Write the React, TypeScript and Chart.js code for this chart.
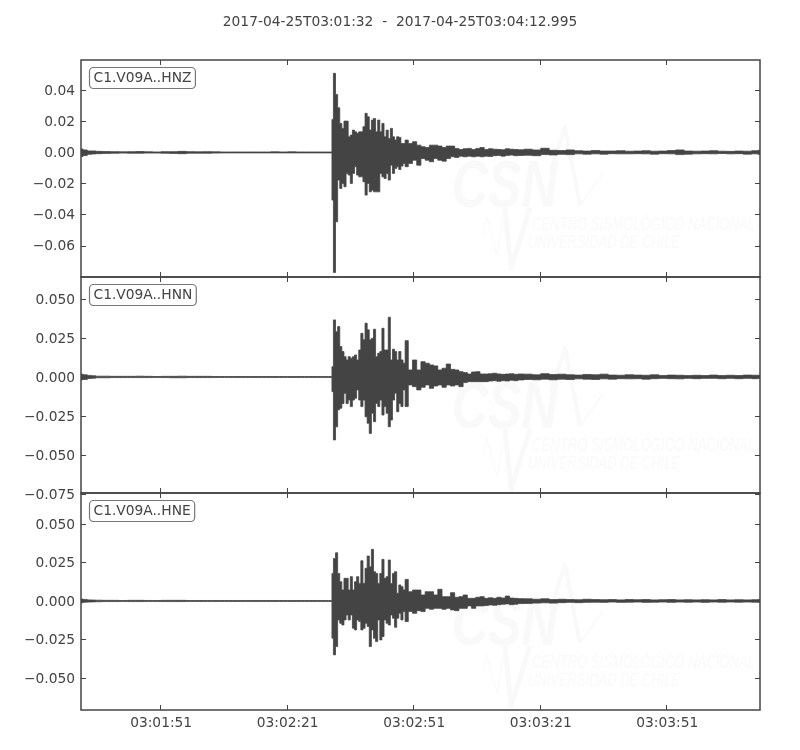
import React, { useEffect, useRef } from "react";
import { Chart, registerables } from "chart.js";

Chart.register(...registerables);

const titleText = "2017-04-25T03:01:32  -  2017-04-25T03:04:12.995";
const channels = ["C1.V09A..HNZ", "C1.V09A..HNN", "C1.V09A..HNE"];

const xTickValues = [19, 49, 79, 109, 139];
const xTickLabels = ["03:01:51", "03:02:21", "03:02:51", "03:03:21", "03:03:51"];

const hnzTicks = [0.04, 0.02, 0, -0.02, -0.04, -0.06];
const hnnTicks = [0.05, 0.025, 0, -0.025, -0.05, -0.075];
const hneTicks = [0.05, 0.025, 0, -0.025, -0.05];

const hnzRange = [-0.0803, 0.0596];
const hnnRange = [-0.0744, 0.0641];
const hneRange = [-0.0708, 0.0701];

// seconds after the trace start
const times = [
  0, 1, 2, 3,
  4, 6, 8, 10, 12, 14, 16, 18, 20, 22, 24, 26, 28, 30,
  32, 34, 36, 38, 40, 42, 44, 46, 48, 50, 52, 54, 56, 58,
  59.4,
  59.6, 60.1, 60.6, 61.1, 61.6, 62.1, 62.6, 63.1, 63.6, 64.1, 64.6, 65.1,
  65.6, 66.1, 66.6, 67.1, 67.6, 68.1, 68.6, 69.1, 69.6, 70.1, 70.6, 71.1,
  71.6, 72.1, 72.6, 73.1, 73.6, 74.1, 74.6, 75.1, 75.6, 76.1, 76.6, 77.1,
  78.1, 79.1, 80.1, 81.1, 82.1, 83.1, 84.1, 85.1, 86.1, 87.1, 88.1, 89.1, 90.1, 91.1,
  92.1, 93.1, 94.1, 95.1, 96.1, 97.1, 98.1, 99.1, 100.1, 101.1, 102.1, 103.1, 104.1,
  106, 108, 110, 112, 114, 116, 118, 120, 122, 124, 126, 128, 130, 132,
  134, 136, 138, 140, 142, 144, 146, 148, 150, 152, 154, 156, 158, 160,
  160.995,
];

const hnzHigh = [
  0.0022, 0.0016, 0.001, 0.001,
  0.0007, 0.0006, 0.0005, 0.0004, 0.0005, 0.0006, 0.0004, 0.0003, 0.0005, 0.0005, 0.0007, 0.0005, 0.0004, 0.0005,
  0.0004, 0.0003, 0.0003, 0.0003, 0.0003, 0.0003, 0.0003, 0.0004, 0.0003, 0.0004, 0.0003, 0.0003, 0.0003, 0.0003,
  0.0003,
  0.0213, 0.051, 0.0374, 0.0288, 0.0187, 0.0155, 0.0202, 0.0202, 0.0101, 0.0112, 0.0144, 0.0133,
  0.0123, 0.0133, 0.0133, 0.0166, 0.0252, 0.023, 0.0144, 0.0209, 0.0219, 0.0133, 0.0209, 0.0133,
  0.0187, 0.0101, 0.0144, 0.009, 0.0155, 0.0101, 0.008, 0.0101, 0.0097, 0.0058, 0.0058, 0.008,
  0.0058, 0.0069, 0.0047, 0.0037, 0.0032, 0.0047, 0.0047, 0.0041, 0.0032, 0.0041, 0.0041, 0.0026, 0.0019, 0.0024,
  0.0026, 0.0019, 0.0026, 0.0032, 0.0019, 0.0024, 0.0021, 0.0019, 0.0017, 0.0024, 0.0021, 0.0019, 0.0017,
  0.0021, 0.0016, 0.0027, 0.0014, 0.0012, 0.0016, 0.0011, 0.0009, 0.0012, 0.0009, 0.0009, 0.0011, 0.0008, 0.0009,
  0.0011, 0.0008, 0.0009, 0.0012, 0.0016, 0.0009, 0.0008, 0.0009, 0.0011, 0.0008, 0.0007, 0.0009, 0.0008, 0.0011,
  0.0014,
];
const hnzLow = [
  -0.0026, -0.002, -0.0012, -0.001,
  -0.0008, -0.0006, -0.0005, -0.0004, -0.0005, -0.0005, -0.0004, -0.0004, -0.0005, -0.0006, -0.0008, -0.0005, -0.0005, -0.0005,
  -0.0004, -0.0003, -0.0003, -0.0003, -0.0003, -0.0003, -0.0003, -0.0003, -0.0003, -0.0003, -0.0003, -0.0003, -0.0003, -0.0003,
  -0.0003,
  -0.0307, -0.0774, -0.0447, -0.0178, -0.0232, -0.02, -0.0221, -0.0135, -0.0146, -0.02, -0.0135, -0.0092,
  -0.0146, -0.0157, -0.0157, -0.0189, -0.0275, -0.02, -0.0254, -0.0243, -0.0254, -0.0254, -0.0254, -0.0135,
  -0.0157, -0.0168, -0.0135, -0.0178, -0.0082, -0.0135, -0.0103, -0.0092, -0.011, -0.0088, -0.0071, -0.0092,
  -0.0071, -0.005, -0.0082, -0.0039, -0.005, -0.006, -0.0039, -0.005, -0.0056, -0.0039, -0.0028, -0.0032, -0.0024, -0.0028,
  -0.0024, -0.0028, -0.0024, -0.0028, -0.0024, -0.0026, -0.0021, -0.0019, -0.0024, -0.0019, -0.0017, -0.0021, -0.0019,
  -0.0018, -0.0021, -0.0014, -0.0016, -0.0012, -0.0014, -0.0009, -0.0011, -0.0009, -0.0011, -0.0008, -0.0009, -0.0009, -0.0008,
  -0.0009, -0.0011, -0.0008, -0.0009, -0.0014, -0.0011, -0.0009, -0.0008, -0.0009, -0.0007, -0.0009, -0.0008, -0.0011, -0.0009,
  -0.0012,
];

const hnnHigh = [
  0.0018, 0.0014, 0.001, 0.0008,
  0.0005, 0.0005, 0.0004, 0.0004, 0.0004, 0.0005, 0.0004, 0.0003, 0.0004, 0.0004, 0.0005, 0.0004, 0.0004, 0.0004,
  0.0003, 0.0003, 0.0003, 0.0003, 0.0003, 0.0003, 0.0003, 0.0003, 0.0003, 0.0003, 0.0003, 0.0003, 0.0003, 0.0003,
  0.0003,
  0.0066, 0.0366, 0.029, 0.0323, 0.0195, 0.0163, 0.013, 0.0109, 0.013, 0.012, 0.013, 0.0141,
  0.0109, 0.0173, 0.028, 0.0238, 0.0345, 0.0302, 0.0238, 0.0248, 0.0306, 0.013, 0.0152, 0.0163,
  0.0312, 0.0173, 0.0173, 0.0383, 0.0109, 0.0178, 0.0163, 0.0109, 0.0163, 0.0109, 0.0088, 0.0233,
  0.0045, 0.0109, 0.0045, 0.0098, 0.0088, 0.0077, 0.0071, 0.0045, 0.0056, 0.0083, 0.0049, 0.0045, 0.0034, 0.0028,
  0.0019, 0.0032, 0.0034, 0.0019, 0.0019, 0.0021, 0.0024, 0.0019, 0.0017, 0.0019, 0.0021, 0.0017, 0.0019,
  0.0018, 0.0014, 0.0021, 0.0016, 0.0018, 0.0014, 0.0012, 0.0016, 0.0014, 0.0018, 0.0012, 0.0011, 0.0014, 0.0012,
  0.0011, 0.0014, 0.0009, 0.0012, 0.0011, 0.0009, 0.0011, 0.0009, 0.0012, 0.0009, 0.0011, 0.0009, 0.0012, 0.0011,
  0.0011,
];
const hnnLow = [
  -0.0018, -0.0016, -0.001, -0.0008,
  -0.0005, -0.0005, -0.0004, -0.0004, -0.0004, -0.0004, -0.0004, -0.0003, -0.0004, -0.0005, -0.0005, -0.0004, -0.0004, -0.0004,
  -0.0003, -0.0003, -0.0003, -0.0003, -0.0003, -0.0003, -0.0003, -0.0003, -0.0003, -0.0003, -0.0003, -0.0003, -0.0003, -0.0003,
  -0.0003,
  -0.0094, -0.0404, -0.032, -0.021, -0.02, -0.017, -0.0105, -0.017, -0.0148, -0.019, -0.0148, -0.0137,
  -0.0083, -0.0148, -0.019, -0.0148, -0.0255, -0.0297, -0.0362, -0.0233, -0.0287, -0.017, -0.019, -0.0148,
  -0.0244, -0.019, -0.0233, -0.0319, -0.0276, -0.0148, -0.0105, -0.0223, -0.017, -0.019, -0.0083, -0.019,
  -0.0051, -0.0062, -0.0083, -0.0066, -0.0051, -0.0073, -0.0058, -0.0051, -0.0066, -0.0051, -0.0058, -0.0051, -0.0062, -0.0036,
  -0.003, -0.003, -0.003, -0.003, -0.003, -0.0026, -0.0024, -0.0028, -0.0024, -0.0026, -0.0021, -0.0024, -0.0019,
  -0.0016, -0.0018, -0.0014, -0.0018, -0.0014, -0.0016, -0.0012, -0.0014, -0.0016, -0.0012, -0.0014, -0.0011, -0.0012, -0.0011,
  -0.0014, -0.0011, -0.0009, -0.0011, -0.0012, -0.0009, -0.0011, -0.0009, -0.0009, -0.0011, -0.0009, -0.0011, -0.0009, -0.0011,
  -0.0009,
];

const hneHigh = [
  0.0012, 0.001, 0.0007, 0.0006,
  0.0005, 0.0004, 0.0004, 0.0003, 0.0004, 0.0004, 0.0003, 0.0003, 0.0004, 0.0004, 0.0004, 0.0003, 0.0003, 0.0003,
  0.0003, 0.0003, 0.0003, 0.0003, 0.0003, 0.0003, 0.0003, 0.0003, 0.0003, 0.0003, 0.0003, 0.0003, 0.0003, 0.0003,
  0.0003,
  0.0179, 0.0276, 0.0313, 0.0179, 0.0125, 0.0071, 0.0147, 0.0147, 0.0071, 0.0158, 0.0071, 0.0125,
  0.0158, 0.0114, 0.0261, 0.0114, 0.0212, 0.0292, 0.0222, 0.0335, 0.019, 0.0179, 0.0114, 0.0179,
  0.027, 0.0147, 0.0158, 0.0266, 0.0114, 0.0179, 0.019, 0.005, 0.0104, 0.0093, 0.0071, 0.014,
  0.006, 0.0071, 0.0071, 0.0039, 0.006, 0.006, 0.0039, 0.0076, 0.0028, 0.0028, 0.0054, 0.0024, 0.0028, 0.0039,
  0.0017, 0.0017, 0.0024, 0.0028, 0.0017, 0.0021, 0.0017, 0.0024, 0.0019, 0.0032, 0.0019, 0.0017, 0.0015,
  0.0014, 0.0011, 0.0014, 0.0009, 0.0011, 0.0009, 0.0008, 0.0011, 0.0009, 0.0008, 0.0009, 0.0007, 0.0009, 0.0008,
  0.0009, 0.0007, 0.0008, 0.0009, 0.0007, 0.0008, 0.0007, 0.0008, 0.0007, 0.0009, 0.0007, 0.0008, 0.0007, 0.0008,
  0.0009,
];
const hneLow = [
  -0.0012, -0.0008, -0.0007, -0.0006,
  -0.0005, -0.0004, -0.0004, -0.0003, -0.0004, -0.0004, -0.0003, -0.0003, -0.0004, -0.0004, -0.0004, -0.0003, -0.0003, -0.0003,
  -0.0003, -0.0003, -0.0003, -0.0003, -0.0003, -0.0003, -0.0003, -0.0003, -0.0003, -0.0003, -0.0003, -0.0003, -0.0003, -0.0003,
  -0.0003,
  -0.0242, -0.035, -0.0296, -0.0123, -0.0145, -0.0156, -0.0123, -0.0091, -0.0123, -0.0091, -0.0177, -0.0188,
  -0.0123, -0.0134, -0.0188, -0.0177, -0.0145, -0.0166, -0.0296, -0.0188, -0.0242, -0.0264, -0.0123, -0.0253,
  -0.0231, -0.0123, -0.0145, -0.0156, -0.0091, -0.0112, -0.0171, -0.0112, -0.008, -0.0123, -0.0069, -0.0134,
  -0.0069, -0.008, -0.0063, -0.0069, -0.0048, -0.0054, -0.0048, -0.0048, -0.0054, -0.0048, -0.0058, -0.0063, -0.0048, -0.0048,
  -0.0032, -0.0048, -0.0032, -0.0032, -0.003, -0.0026, -0.0028, -0.0024, -0.0021, -0.0019, -0.0024, -0.0021, -0.0017,
  -0.0016, -0.0014, -0.0012, -0.0014, -0.0011, -0.0009, -0.0011, -0.0009, -0.0008, -0.0009, -0.0007, -0.0009, -0.0008, -0.0007,
  -0.0009, -0.0008, -0.0007, -0.0009, -0.0007, -0.0008, -0.0007, -0.0009, -0.0007, -0.0008, -0.0007, -0.0008, -0.0007, -0.0008,
  -0.0009,
];

const INK = "#444444";
const FONT = '"DejaVu Sans"';
const FONT_SIZE = 13.8;
const scaleIds = ["y1", "y2", "y3"];
const watermarkShift = [0, 221, 438];

const points = (values: number[]) => times.map((t, i) => ({ x: t, y: values[i] }));

const envelope = (values: number[], yAxisID: string, fill: string | boolean) => ({
  data: points(values),
  yAxisID,
  xAxisID: "x",
  parsing: false,
  borderColor: INK,
  backgroundColor: INK,
  borderWidth: 0.8,
  pointRadius: 0,
  stepped: "middle",
  fill,
});

const yScale = (range: number[], ticks: number[], decimals: number, weight: number) => ({
  type: "linear",
  position: "left",
  stack: "traces",
  stackWeight: weight,
  min: range[0],
  max: range[1],
  afterBuildTicks: (s: any) => {
    s.ticks = ticks.map((value) => ({ value }));
  },
  afterFit: (s: any) => {
    s.width = 81;
  },
  grid: { drawOnChartArea: false, drawTicks: false },
  border: { display: false },
  ticks: {
    color: INK,
    padding: 6,
    font: { family: FONT, size: FONT_SIZE },
    callback: (v: number) => (v < 0 ? "\u2212" : "") + Math.abs(v).toFixed(decimals),
  },
});

const frameAndLabels = {
  id: "frameAndLabels",
  beforeDraw(chart: any) {
    // nudge the value labels one pixel down, to sit where the reference has them
    scaleIds.forEach((id) => {
      chart.scales[id].getLabelItems().forEach((item: any) => {
        item.options.translation[1] += 1;
      });
    });
  },
  beforeDatasetsDraw(chart: any) {
    const ctx = chart.ctx;
    const { left } = chart.chartArea;
    ctx.save();
    ctx.fillStyle = "#f9f9f9";
    ctx.strokeStyle = "#f9f9f9";
    watermarkShift.forEach((dy) => {
      const ox = left;
      const oy = chart.chartArea.top + dy;
      ctx.save();
      ctx.translate(ox + 371, oy + 147);
      ctx.scale(1, 1.32);
      ctx.font = 'italic bold 50px "Liberation Sans"';
      ctx.textAlign = "left";
      ctx.textBaseline = "alphabetic";
      ctx.fillText("CSN", 0, 0);
      ctx.restore();
      ctx.lineJoin = "round";
      ctx.lineWidth = 4;
      ctx.beginPath();
      ctx.moveTo(ox + 470, oy + 110);
      ctx.lineTo(ox + 484, oy + 67);
      ctx.lineTo(ox + 499, oy + 145);
      ctx.stroke();
      ctx.lineWidth = 1.5;
      ctx.beginPath();
      ctx.moveTo(ox + 499, oy + 145);
      ctx.lineTo(ox + 522, oy + 113);
      ctx.stroke();
      ctx.lineWidth = 1;
      ctx.beginPath();
      ctx.moveTo(ox + 402, oy + 175);
      ctx.lineTo(ox + 406, oy + 157);
      ctx.lineTo(ox + 416, oy + 195);
      ctx.lineTo(ox + 424, oy + 148);
      ctx.stroke();
      ctx.lineWidth = 5;
      ctx.beginPath();
      ctx.moveTo(ox + 424, oy + 148);
      ctx.lineTo(ox + 430, oy + 208);
      ctx.lineTo(ox + 449, oy + 148);
      ctx.stroke();
      ctx.font = 'italic 18px "Liberation Sans"';
      ctx.textAlign = "left";
      ctx.fillText("CENTRO SISMOLÓGICO NACIONAL", ox + 451, oy + 170, 223);
      ctx.fillText("UNIVERSIDAD DE CHILE", ox + 447, oy + 188, 152);
    });
    ctx.restore();
  },
  afterDatasetsDraw(chart: any) {
    const ctx = chart.ctx;
    const xs = chart.scales.x;
    const { left, right } = chart.chartArea;
    ctx.save();
    scaleIds.forEach((id, i) => {
      const ys = chart.scales[id];
      ctx.strokeStyle = INK;
      ctx.lineWidth = 1;
      ctx.beginPath();
      ys.ticks.forEach((t: any) => {
        const y = Math.round(ys.getPixelForValue(t.value)) + 0.5;
        ctx.moveTo(left, y);
        ctx.lineTo(left + 5, y);
        ctx.moveTo(right, y);
        ctx.lineTo(right - 5, y);
      });
      xs.ticks.forEach((t: any) => {
        const x = Math.round(xs.getPixelForValue(t.value)) - 0.5;
        ctx.moveTo(x, ys.top);
        ctx.lineTo(x, ys.top + 5);
        ctx.moveTo(x, ys.bottom);
        ctx.lineTo(x, ys.bottom - 5);
      });
      ctx.stroke();
      ctx.lineWidth = 1.5;
      ctx.strokeRect(left, ys.top, right - left, ys.bottom - ys.top);

      const bx = left + 8;
      const by = ys.top + 7;
      ctx.font = `${FONT_SIZE}px ${FONT}`;
      const w = ctx.measureText(channels[i]).width + 8;
      ctx.beginPath();
      ctx.roundRect(bx + 0.5, by + 0.5, w, 21, 4);
      ctx.fillStyle = "#ffffff";
      ctx.fill();
      ctx.strokeStyle = "#777777";
      ctx.lineWidth = 1.2;
      ctx.stroke();
      ctx.fillStyle = INK;
      ctx.textAlign = "left";
      ctx.textBaseline = "middle";
      ctx.fillText(channels[i], bx + 4.5, by + 11.5);
    });
    ctx.restore();
  },
};

export default function App() {
  const ref = useRef<HTMLCanvasElement | null>(null);
  useEffect(() => {
    const chart = new Chart(ref.current as HTMLCanvasElement, {
      type: "line",
      data: {
        datasets: [
          envelope(hnzHigh, "y1", "+1"),
          envelope(hnzLow, "y1", false),
          envelope(hnnHigh, "y2", "+1"),
          envelope(hnnLow, "y2", false),
          envelope(hneHigh, "y3", "+1"),
          envelope(hneLow, "y3", false),
        ] as any,
      },
      options: {
        responsive: false,
        animation: false,
        devicePixelRatio: 1,
        layout: { padding: 0 },
        plugins: {
          legend: { display: false },
          tooltip: { enabled: false },
          title: {
            display: true,
            text: titleText,
            color: INK,
            font: { family: FONT, size: FONT_SIZE, weight: "normal", lineHeight: 1.2 },
            padding: { top: 14, bottom: 29.44 },
          },
        },
        scales: {
          x: {
            type: "linear",
            min: 0,
            max: 160.995,
            afterBuildTicks: (s: any) => {
              s.ticks = xTickValues.map((value) => ({ value }));
            },
            afterFit: (s: any) => {
              s.height = 40;
            },
            grid: { drawOnChartArea: false, drawTicks: false },
            border: { display: false },
            ticks: {
              color: INK,
              padding: 5,
              autoSkip: false,
              maxRotation: 0,
              font: { family: FONT, size: FONT_SIZE },
              callback: (v: number) => xTickLabels[xTickValues.indexOf(v)],
            },
          },
          y3: yScale(hneRange, hneTicks, 3, 217),
          y2: yScale(hnnRange, hnnTicks, 3, 216),
          y1: yScale(hnzRange, hnzTicks, 2, 217),
          margin: {
            type: "linear",
            position: "right",
            afterFit: (s: any) => {
              s.width = 40;
            },
            grid: { display: false },
            border: { display: false },
            ticks: { display: false },
          },
        } as any,
      },
      plugins: [frameAndLabels],
    });
    return () => chart.destroy();
  }, []);
  return (
    <canvas
      ref={ref}
      width={800}
      height={750}
      style={{ position: "absolute", left: 0, top: 0, width: 800, height: 750, background: "#fff" }}
    />
  );
}
